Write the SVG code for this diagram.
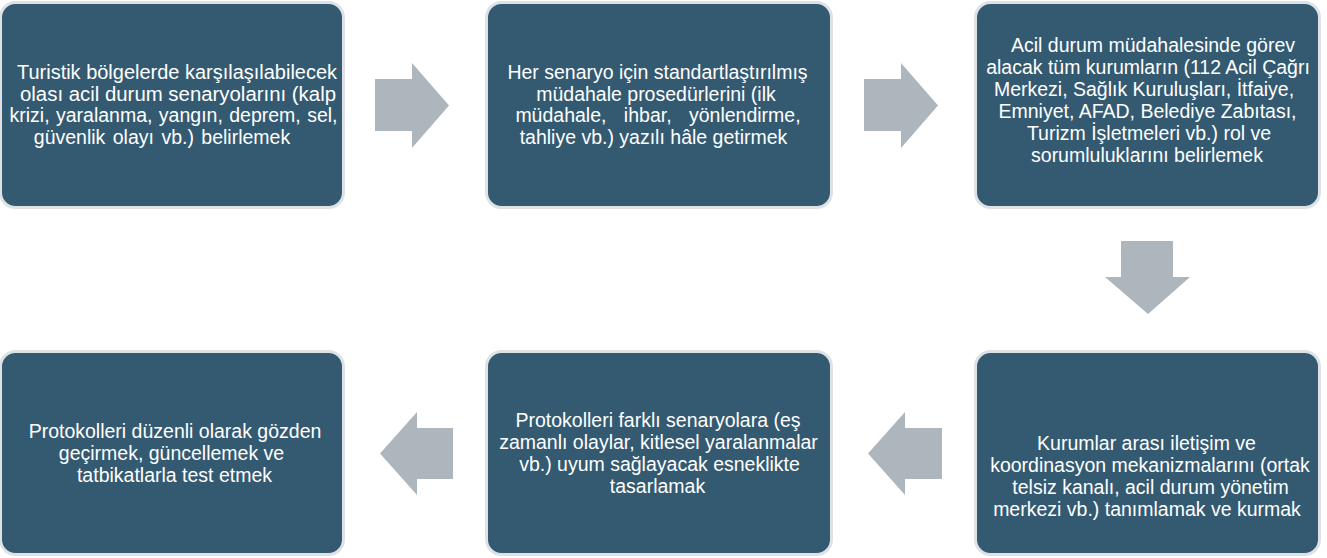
<svg xmlns="http://www.w3.org/2000/svg" width="1327" height="558" viewBox="0 0 1327 558">
<defs>
<style>
.box{fill:#345a72;stroke:#dee2e6;stroke-width:3}
.arr{fill:#adb5bd}
.t{font-family:"Liberation Sans",Arial,sans-serif;font-size:19.5px;fill:#ffffff;text-anchor:middle}
</style>
</defs>
<rect width="1327" height="558" fill="#ffffff"/>
<g id="connectors">
<polygon class="arr" points="375,79 412,79 412,63 449,105.5 412,148 412,131 375,131"/>
<polygon class="arr" points="864,79 901,79 901,63 938,105.5 901,148 901,131 864,131"/>
<polygon class="arr" points="1121,241 1173,241 1173,277 1190,277 1148,314 1105,277 1121,277"/>
<polygon class="arr" points="942,428 905,428 905,412 868,453.5 905,495 905,479 942,479"/>
<polygon class="arr" points="453,428 417,428 417,412 380,453.5 417,495 417,479 453,479"/>
</g>
<g id="node1">
<rect class="box" x="0.5" y="2.5" width="343" height="205" rx="15"/>
<text class="t"><tspan x="177" y="79" textLength="320" lengthAdjust="spacingAndGlyphs">Turistik bölgelerde karşılaşılabilecek</tspan><tspan x="178" y="101" textLength="316" lengthAdjust="spacingAndGlyphs">olası acil durum senaryolarını (kalp</tspan><tspan x="173.5" y="122" word-spacing="1">krizi, yaralanma, yangın, deprem, sel,</tspan><tspan x="162" y="144" word-spacing="2">güvenlik olayı vb.) belirlemek</tspan></text>
</g>
<g id="node2">
<rect class="box" x="486.5" y="2.5" width="345" height="205" rx="15"/>
<text class="t"><tspan x="657.5" y="79">Her senaryo için standartlaştırılmış</tspan><tspan x="656" y="101">müdahale prosedürlerini (ilk</tspan><tspan x="658" y="122" word-spacing="12">müdahale, ihbar, yönlendirme,</tspan><tspan x="653.5" y="144">tahliye vb.) yazılı hâle getirmek</tspan></text>
</g>
<g id="node3">
<rect class="box" x="975.5" y="2.5" width="344" height="205" rx="15"/>
<text class="t"><tspan x="1153" y="52">Acil durum müdahalesinde görev</tspan><tspan x="1148" y="74">alacak tüm kurumların (112 Acil Çağrı</tspan><tspan x="1144" y="96">Merkezi, Sağlık Kuruluşları, İtfaiye,</tspan><tspan x="1147.5" y="118">Emniyet, AFAD, Belediye Zabıtası,</tspan><tspan x="1149" y="140">Turizm İşletmeleri vb.) rol ve</tspan><tspan x="1147" y="162">sorumluluklarını belirlemek</tspan></text>
</g>
<g id="node4">
<rect class="box" x="975.5" y="351.5" width="344" height="203" rx="15"/>
<text class="t"><tspan x="1146.5" y="450">Kurumlar arası iletişim ve</tspan><tspan x="1150" y="472">koordinasyon mekanizmalarını (ortak</tspan><tspan x="1150.5" y="494">telsiz kanalı, acil durum yönetim</tspan><tspan x="1147" y="516">merkezi vb.) tanımlamak ve kurmak</tspan></text>
</g>
<g id="node5">
<rect class="box" x="486.5" y="351.5" width="345" height="203" rx="15"/>
<text class="t"><tspan x="658" y="427">Protokolleri farklı senaryolara (eş</tspan><tspan x="658.5" y="449">zamanlı olaylar, kitlesel yaralanmalar</tspan><tspan x="659.5" y="471">vb.) uyum sağlayacak esneklikte</tspan><tspan x="657.5" y="493">tasarlamak</tspan></text>
</g>
<g id="node6">
<rect class="box" x="0.5" y="351.5" width="343" height="203" rx="15"/>
<text class="t"><tspan x="175" y="438">Protokolleri düzenli olarak gözden</tspan><tspan x="171.5" y="460">geçirmek, güncellemek ve</tspan><tspan x="174.5" y="482">tatbikatlarla test etmek</tspan></text>
</g>
</svg>
